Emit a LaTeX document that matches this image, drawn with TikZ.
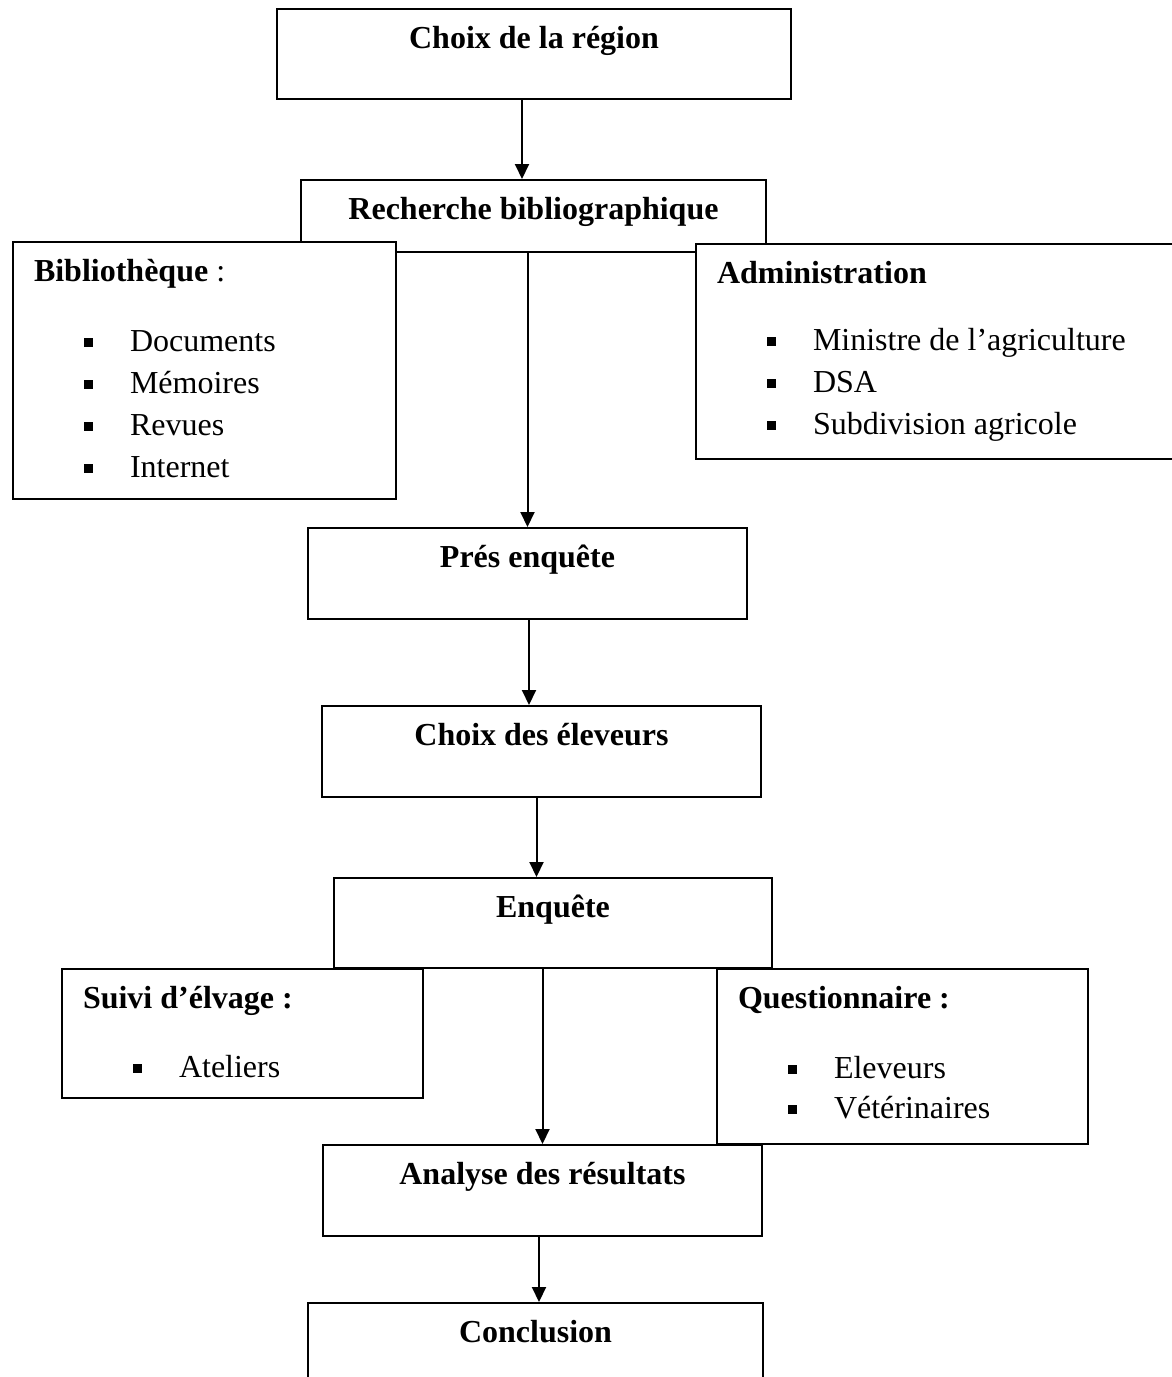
\documentclass[tikz,border=0pt]{standalone}
\usepackage{fontspec}
\setmainfont{Liberation Serif}
\usetikzlibrary{arrows.meta}
\newcommand{\taille}{\fontsize{32}{42}\selectfont}
\newcommand{\puce}{\hspace*{50pt}\makebox[46pt][l]{\rule[4pt]{9pt}{9pt}}}
\newcommand{\fiche}[3]{\parbox[t][#2][t]{#1}{\raggedright\leftskip=21pt\rule{0pt}{39pt}#3}}
\tikzset{
  stepbox/.style={draw, line width=2pt, anchor=north, inner sep=0pt,
                  font=\taille\bfseries, text height=39pt},
  sidebox/.style={draw, fill=white, line width=2pt, anchor=north west,
                  inner sep=0pt, font=\taille},
  arr/.style={-{Triangle[length=15pt, width=14pt]}, line width=2pt},
}
\begin{document}
\begin{tikzpicture}[x=1pt, y=-1pt]
  \useasboundingbox (0,0) rectangle (1172,1377);
  \clip (0,0) rectangle (1172,1377);

  % main steps
  \node[stepbox, minimum width=514pt, text depth=51pt] (region) at (534,8) {Choix de la région};
  \node[stepbox, minimum width=465pt, text depth=33pt] (recherche) at (533.5,179) {Recherche bibliographique};
  \node[stepbox, minimum width=439pt, text depth=52pt] (presenquete) at (527.5,527) {Prés enquête};
  \node[stepbox, minimum width=439pt, text depth=52pt] (eleveurs) at (541.5,705) {Choix des éleveurs};
  \node[stepbox, minimum width=438pt, text depth=51pt] (enquete) at (553,877) {Enquête};
  \node[stepbox, minimum width=439pt, text depth=52pt] (analyse) at (542.5,1144) {Analyse des résultats};
  \node[stepbox, minimum width=455pt, text depth=70pt] (conclusion) at (535.5,1302) {Conclusion};

  \draw[arr] ([xshift=-12pt]region.south) -- ([xshift=-12pt]region.south |- recherche.north);
  \draw[arr] (recherche.south -| presenquete.north) -- (presenquete.north);
  \draw[arr] ([xshift=1.5pt]presenquete.south) -- ([xshift=1.5pt]presenquete.south |- eleveurs.north);
  \draw[arr] ([xshift=-5pt]eleveurs.south) -- ([xshift=-5pt]eleveurs.south |- enquete.north);
  \draw[arr] (enquete.south -| analyse.north) -- (analyse.north);
  \draw[arr] ([xshift=-3.5pt]analyse.south) -- ([xshift=-3.5pt]analyse.south |- conclusion.north);

  % side boxes
  \node[sidebox] (bibliotheque) at (12,241) {\fiche{383pt}{257pt}{\textbf{Bibliothèque} :\\[28pt]
    \puce Documents\\\puce Mémoires\\\puce Revues\\\puce Internet}};
  \node[sidebox] (administration) at (695,243) {\fiche{485pt}{215pt}{\textbf{Administration}\\[25pt]
    \puce Ministre de l’agriculture\\\puce DSA\\\puce Subdivision agricole}};
  \node[sidebox] (suivi) at (61,968) {\fiche{361pt}{129pt}{\textbf{Suivi d’élvage :}\\[27pt]
    \puce Ateliers}};
  \node[sidebox] (questionnaire) at (716,968) {\fiche{371pt}{175pt}{\textbf{Questionnaire :}\\[28pt]
    \puce Eleveurs\\[-2pt]\puce Vétérinaires}};
\end{tikzpicture}
\end{document}
